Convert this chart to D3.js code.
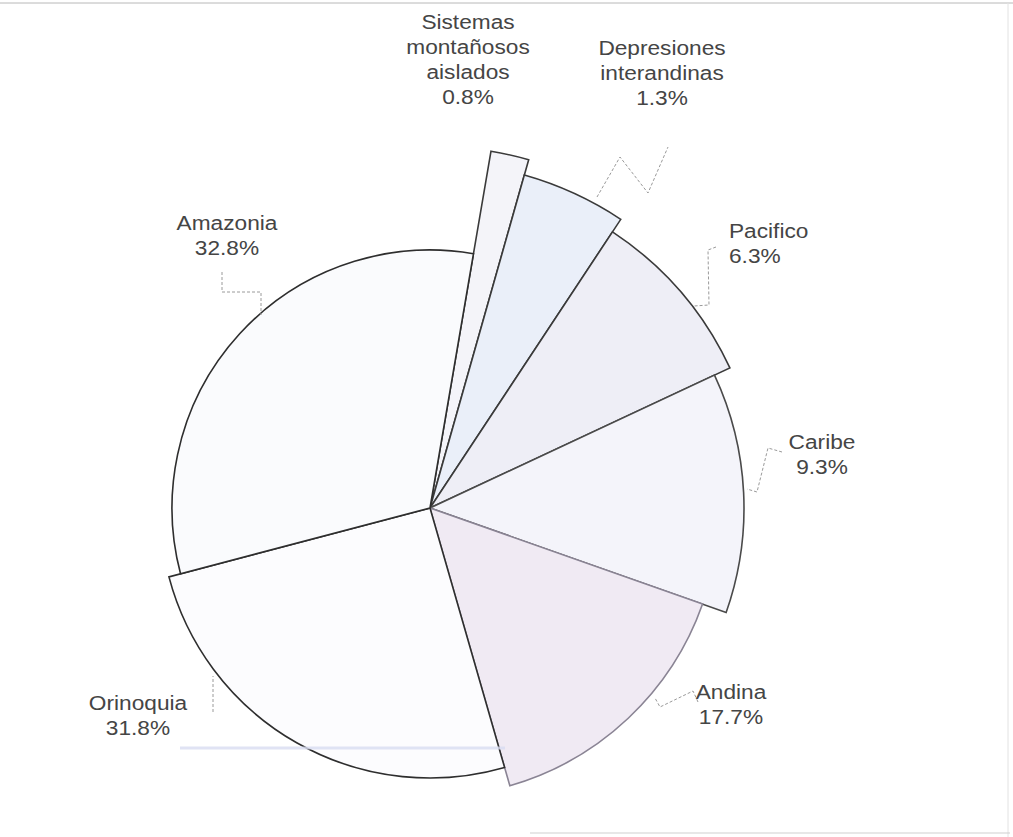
<!DOCTYPE html>
<html>
<head>
<meta charset="utf-8">
<script src="https://cdn.jsdelivr.net/npm/d3@7"></script>
<style>
  html, body { margin: 0; padding: 0; background: #ffffff; }
  svg { display: block; }
</style>
</head>
<body>
<svg id="chart" width="1013" height="837"></svg>
<script>
// ---- data ----
const categories = ["Sistemas montañosos aislados", "Depresiones interandinas", "Pacifico", "Caribe", "Andina", "Orinoquia", "Amazonia"];
const labelLines = [["Sistemas", "montañosos", "aislados"], ["Depresiones", "interandinas"], ["Pacifico"], ["Caribe"], ["Andina"], ["Orinoquia"], ["Amazonia"]];
const percentLabels = ["0.8%", "1.3%", "6.3%", "9.3%", "17.7%", "31.8%", "32.8%"];
const drawnShare = [1.7, 4.9, 8.75, 12.35, 15.15, 25.35, 31.8];

// ---- layout / style ----
const W = 1013, H = 837;
const cx = 430, cy = 508;
const startDeg = 9.7;
const sliceRadius = [362, 346, 331, 314, 289, 270, 258];
const sliceFill = ["#f4f4f9", "#eaeff9", "#eeeef6", "#f4f4fa", "#f0eaf3", "#fcfcfe", "#fafbfd"];
const sliceStroke = ["#3a3a3a", "#3a3a3a", "#3a3a3a", "#4a4a4a", "#8a8494", "#2e2e2e", "#2e2e2e"];
const labelPos = [
  {x: 468, y: 29, anchor: "middle"},
  {x: 662, y: 55, anchor: "middle"},
  {x: 729, y: 238, anchor: "start"},
  {x: 822, y: 449, anchor: "middle"},
  {x: 731, y: 699, anchor: "middle"},
  {x: 138, y: 710, anchor: "middle"},
  {x: 227, y: 230, anchor: "middle"}
];
const leaders = [
  null,
  [[597, 197], [620, 157], [648, 193], [668, 147]],
  [[716, 247], [708, 250], [709, 305], [694, 306]],
  [[782, 452], [768, 448], [757, 492], [747, 489]],
  [[698, 702], [693, 691], [660, 707], [655, 698]],
  [[213, 712], [213, 676]],
  [[222, 272], [222, 292], [261, 292], [261, 315]]
];

const svg = d3.select("#chart");

// scan artifacts (page borders)
svg.append("line").attr("x1", 0).attr("y1", 3).attr("x2", W).attr("y2", 3)
  .attr("stroke", "#b8b8b8").attr("stroke-width", 1);
svg.append("line").attr("x1", 1008).attr("y1", 3).attr("x2", 1008).attr("y2", H)
  .attr("stroke", "#e2e2e2").attr("stroke-width", 1);
svg.append("line").attr("x1", 530).attr("y1", 833).attr("x2", 1010).attr("y2", 833)
  .attr("stroke", "#cfcfcf").attr("stroke-width", 1);

const pie = d3.pie().sort(null).value(d => d)
  .startAngle(startDeg * Math.PI / 180)
  .endAngle(startDeg * Math.PI / 180 + 2 * Math.PI);
const arcs = pie(drawnShare);

const g = svg.append("g").attr("transform", `translate(${cx},${cy})`);

// draw larger radii first so smaller overlay neatly
const order = d3.range(arcs.length).sort((a, b) => sliceRadius[b] - sliceRadius[a]);
g.selectAll("path.slice").data(order).join("path")
  .attr("class", "slice")
  .attr("d", i => d3.arc().innerRadius(0).outerRadius(sliceRadius[i])(arcs[i]))
  .attr("fill", i => sliceFill[i])
  .attr("stroke", i => sliceStroke[i])
  .attr("stroke-width", 1.6)
  .attr("stroke-linejoin", "miter");

// faint scan line across the lower part
svg.append("line").attr("x1", 180).attr("y1", 748).attr("x2", 505).attr("y2", 748)
  .attr("stroke", "#d9ddf2").attr("stroke-width", 3).attr("opacity", 0.8);

// leader lines
const lineGen = d3.line();
svg.selectAll("path.leader").data(leaders.filter(d => d)).join("path")
  .attr("class", "leader")
  .attr("d", d => lineGen(d))
  .attr("fill", "none")
  .attr("stroke", "#9a9a9a")
  .attr("stroke-width", 1)
  .attr("stroke-dasharray", "3,2");

// labels
const lh = 25;
categories.forEach((c, i) => {
  const p = labelPos[i];
  const lines = labelLines[i].concat([percentLabels[i]]);
  const t = svg.append("text")
    .attr("transform", `translate(${p.x},${p.y}) scale(1.08,1)`)
    .attr("text-anchor", p.anchor)
    .attr("font-family", "Liberation Sans, Arial, sans-serif")
    .attr("font-size", 21)
    .attr("fill", "#454545");
  lines.forEach((l, k) => {
    t.append("tspan").attr("x", 0).attr("y", k * lh).text(l);
  });
});
</script>
</body>
</html>
